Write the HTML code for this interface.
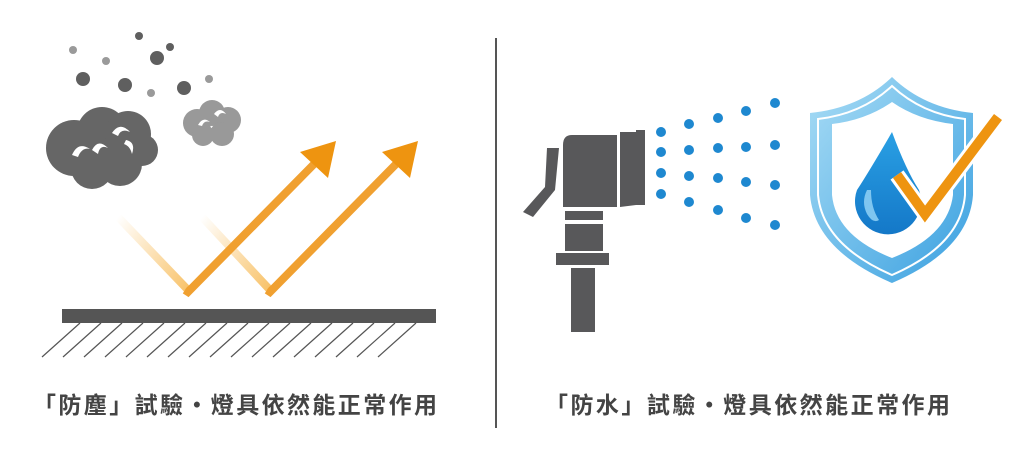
<!DOCTYPE html>
<html><head><meta charset="utf-8"><style>
html,body{margin:0;padding:0;background:#fff;width:1020px;height:473px;overflow:hidden}
svg{display:block}
</style></head><body>
<svg width="1020" height="473" viewBox="0 0 1020 473" xmlns="http://www.w3.org/2000/svg">
<defs>
<linearGradient id="fa1" gradientUnits="userSpaceOnUse" x1="118" y1="217" x2="200" y2="280">
<stop offset="0" stop-color="#f5a623" stop-opacity="0"/><stop offset="1" stop-color="#f5a623" stop-opacity="0.7"/></linearGradient>
<linearGradient id="fa2" gradientUnits="userSpaceOnUse" x1="202" y1="217" x2="280" y2="280">
<stop offset="0" stop-color="#f5a623" stop-opacity="0"/><stop offset="1" stop-color="#f5a623" stop-opacity="0.7"/></linearGradient>
<linearGradient id="sh" x1="0" y1="0" x2="1" y2="1">
<stop offset="0" stop-color="#a8dcf5"/><stop offset="1" stop-color="#3aa0e0"/></linearGradient>
<linearGradient id="drop" x1="0" y1="0" x2="0" y2="1">
<stop offset="0" stop-color="#2aa0e4"/><stop offset="1" stop-color="#1478c8"/></linearGradient>
</defs>
<g fill="#5f5f5f">
<circle cx="139" cy="36" r="4"/><circle cx="170" cy="47" r="4"/><circle cx="157" cy="58" r="7"/>
<circle cx="83" cy="79" r="7"/><circle cx="125" cy="85" r="7"/><circle cx="184" cy="88" r="7"/>
</g>
<g fill="#9a9a9a">
<circle cx="73" cy="50" r="4"/><circle cx="106" cy="61" r="4"/><circle cx="151" cy="93" r="4"/><circle cx="209" cy="79" r="4"/>
</g>
<g fill="#666">
<circle cx="74" cy="148" r="28"/><circle cx="102" cy="132" r="25"/><circle cx="128" cy="134" r="23"/>
<circle cx="142" cy="150" r="16"/><circle cx="120" cy="164" r="22"/><circle cx="92" cy="168" r="21"/>
</g>
<g fill="#fff">
<path d="M72 155 q6 -14 18 -6 q-8 -2 -12 8z"/><path d="M92 150 q6 -12 16 -2 q-8 -4 -10 6z"/>
<path d="M112 133 q8 -12 18 -1 q-9 -4 -12 4z"/><path d="M126 140 q10 2 6 14 q-2 -8 -8 -10z"/>
</g>
<g fill="#999">
<circle cx="197" cy="123" r="14"/><circle cx="212" cy="113" r="13"/><circle cx="228" cy="120" r="13"/>
<circle cx="222" cy="134" r="12"/><circle cx="203" cy="135" r="11"/>
</g>
<g fill="#fff">
<path d="M198 125 q5 -9 12 -3 q-6 -2 -8 4z"/><path d="M214 114 q6 -8 12 0 q-6 -3 -8 3z"/>
</g>
<g fill="none" stroke-width="8" stroke-linejoin="miter">
<line x1="118" y1="217" x2="188" y2="290" stroke="url(#fa1)"/>
<line x1="202" y1="217" x2="270" y2="290" stroke="url(#fa2)"/>
<polyline points="185,290 188,292 320,158" stroke="#f0a030"/>
<polyline points="267,290 270,292 402,158" stroke="#f0a030"/>
</g>
<polygon points="336,141 328,178 300,152" fill="#ee9410"/>
<polygon points="418,141 410,178 382,152" fill="#ee9410"/>
<rect x="62" y="309" width="374" height="14" fill="#555"/>
<g stroke="#555" stroke-width="1.2">
<line x1="80" y1="323" x2="42" y2="357"/><line x1="101" y1="323" x2="63" y2="357"/><line x1="122" y1="323" x2="84" y2="357"/>
<line x1="143" y1="323" x2="105" y2="357"/><line x1="164" y1="323" x2="126" y2="357"/><line x1="185" y1="323" x2="147" y2="357"/>
<line x1="206" y1="323" x2="168" y2="357"/><line x1="227" y1="323" x2="189" y2="357"/><line x1="248" y1="323" x2="210" y2="357"/>
<line x1="269" y1="323" x2="231" y2="357"/><line x1="290" y1="323" x2="252" y2="357"/><line x1="311" y1="323" x2="273" y2="357"/>
<line x1="332" y1="323" x2="294" y2="357"/><line x1="353" y1="323" x2="315" y2="357"/><line x1="374" y1="323" x2="336" y2="357"/>
<line x1="395" y1="323" x2="357" y2="357"/><line x1="416" y1="323" x2="378" y2="357"/>
</g>
<rect x="495" y="38" width="2" height="390" fill="#555"/>
<g fill="#58585a">
<polygon points="547,148 559,148 555,190 533,217 523,212 545,187"/>
<path d="M572 135 H617 V207 H563 V145 Q563 135 572 135Z"/>
<polygon points="620,132 636,132 636,130 645,130 645,205 636,205 620,207"/>
<rect x="565" y="211" width="38" height="9"/>
<rect x="565" y="224" width="38" height="27"/>
<rect x="556" y="253" width="53" height="12"/>
<rect x="571" y="268" width="24" height="64"/>
</g>
<g fill="#1e88d0">
<circle cx="661" cy="132" r="5"/><circle cx="661" cy="152" r="5"/><circle cx="661" cy="173" r="5"/><circle cx="661" cy="194" r="5"/>
<circle cx="689" cy="124" r="5"/><circle cx="689" cy="150" r="5"/><circle cx="689" cy="176" r="5"/><circle cx="689" cy="202" r="5"/>
<circle cx="718" cy="118" r="5"/><circle cx="718" cy="148" r="5"/><circle cx="718" cy="178" r="5"/><circle cx="718" cy="210" r="5"/>
<circle cx="746" cy="111" r="5"/><circle cx="746" cy="147" r="5"/><circle cx="746" cy="182" r="5"/><circle cx="746" cy="218" r="5"/>
<circle cx="775" cy="103" r="5"/><circle cx="775" cy="145" r="5"/><circle cx="775" cy="185" r="5"/><circle cx="775" cy="225" r="5"/>
</g>
<path d="M892 77 Q860 108 810 113 V195 Q815 250 892 283 Q969 250 973 195 V113 Q924 108 892 77Z" fill="url(#sh)"/>
<path d="M892 86 Q862 114 818 119 V195 Q823 245 892 275 Q961 245 965 195 V119 Q922 114 892 86Z" fill="none" stroke="#fff" stroke-width="2"/>
<path d="M892 102 Q866 120 832 124 V195 Q836 236 892 258 Q948 236 953 195 V124 Q918 120 892 102Z" fill="#fff"/>
<path d="M892 132 Q870 170 857 190 A33 33 0 1 0 919 190 Q906 170 892 132Z" fill="url(#drop)"/>
<path d="M867 190 q-6 12 0 24 q6 10 12 6 q-8 -12 -8 -30z" fill="#7fc6f0"/>
<polyline points="897,175 925,214 998,117" fill="none" stroke="#fff" stroke-width="16" stroke-linejoin="miter"/>
<polyline points="897,175 925,214 998,117" fill="none" stroke="#ee9410" stroke-width="10" stroke-linejoin="miter"/>
<g font-family="'Liberation Sans','Noto Sans CJK TC',sans-serif" font-size="23" font-weight="bold" fill="#444">
<text x="33" y="413" textLength="404" lengthAdjust="spacing">「防塵」試驗‧燈具依然能正常作用</text>
<text x="545" y="413" textLength="405" lengthAdjust="spacing">「防水」試驗‧燈具依然能正常作用</text>
</g>
</svg>
</body></html>
